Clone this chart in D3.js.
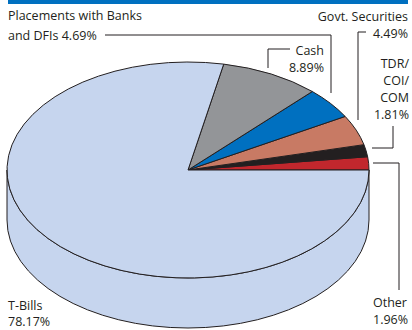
<!DOCTYPE html>
<html>
  <head>
    <meta charset="utf-8">
    <script src="https://d3js.org/d3.v7.min.js"></script>
    <style>
      body { margin: 0; background: #fff; }
      .lbl { font-family: "Open Sans", sans-serif; font-size: 12.5px; fill: #231f20; }
      .lead { fill: none; stroke: #231f20; stroke-width: 1px; }
    </style>
  </head>
  <body>
    <svg width="412" height="330"></svg>
    <script>
    // shares in %, counter-clockwise from the 3 o'clock position
    var names  = ["Other", "TDR/COI/COM", "Govt. Securities", "Placements with Banks and DFIs", "Cash", "T-Bills"];
    var values = [1.96, 1.81, 4.49, 4.69, 8.89, 78.17];
    var colors = ["#c1272d", "#231f20", "#c87a64", "#0070c0", "#939598", "#c6d5ee"];

    var svg = d3.select("svg");
    var cx = 188, cy = 170, rx = 181, ry = 108, depth = 50;

    // top rule
    svg.append("rect").attr("x", 8).attr("y", 0).attr("width", 400).attr("height", 4).attr("fill", "#0070c0");

    // side wall (front half only belongs to T-Bills)
    svg.append("path")
        .attr("d", "M" + (cx - rx) + "," + cy +
                   "A" + rx + "," + ry + " 0 0 0 " + (cx + rx) + "," + cy +
                   "L" + (cx + rx) + "," + (cy + depth) +
                   "A" + rx + "," + ry + " 0 0 1 " + (cx - rx) + "," + (cy + depth) + "Z")
        .attr("fill", colors[5])
        .attr("stroke", "#231f20")
        .attr("stroke-width", 1);

    var pie = d3.pie().sort(null)
        .startAngle(Math.PI / 2)
        .endAngle(Math.PI / 2 - 2 * Math.PI);

    var arc = d3.arc().innerRadius(0).outerRadius(rx);

    var face = svg.append("g")
        .attr("transform", "translate(" + cx + "," + cy + ") scale(1," + (ry / rx) + ")");

    face.selectAll("path")
        .data(pie(values))
        .enter().append("path")
        .attr("d", arc)
        .attr("fill", function(d, i) { return colors[i]; })
        .attr("stroke", "#231f20")
        .attr("stroke-width", 1)
        .attr("vector-effect", "non-scaling-stroke");

    // leader lines
    var leads = [
      [[105, 35], [331, 35], [331, 93]],
      [[290, 49], [268, 49], [268, 68]],
      [[366, 32], [358, 32], [358, 120]],
      [[372, 148], [393, 148], [393, 126]],
      [[373, 163], [399, 163], [399, 290]]
    ];
    svg.selectAll(".lead")
        .data(leads)
        .enter().append("path")
        .attr("class", "lead")
        .attr("d", d3.line());

    // labels: [text, x, y, anchor]
    var labels = [
      ["Placements with Banks", 8, 20, "start"],
      ["and DFIs 4.69%", 8, 40, "start"],
      ["Govt. Securities", 408, 21, "end"],
      ["4.49%", 408, 38, "end"],
      ["Cash", 324, 55, "end"],
      ["8.89%", 324, 72, "end"],
      ["TDR/", 409, 68, "end"],
      ["COI/", 409, 85, "end"],
      ["COM", 409, 102, "end"],
      ["1.81%", 409, 119, "end"],
      ["Other", 373, 307, "start"],
      ["1.96%", 373, 324, "start"],
      ["T-Bills", 8, 310, "start"],
      ["78.17%", 8, 326, "start"]
    ];
    svg.selectAll(".lbl")
        .data(labels)
        .enter().append("text")
        .attr("class", "lbl")
        .attr("x", function(d) { return d[1]; })
        .attr("y", function(d) { return d[2]; })
        .attr("text-anchor", function(d) { return d[3]; })
        .text(function(d) { return d[0]; });
    </script>
  </body>
</html>
